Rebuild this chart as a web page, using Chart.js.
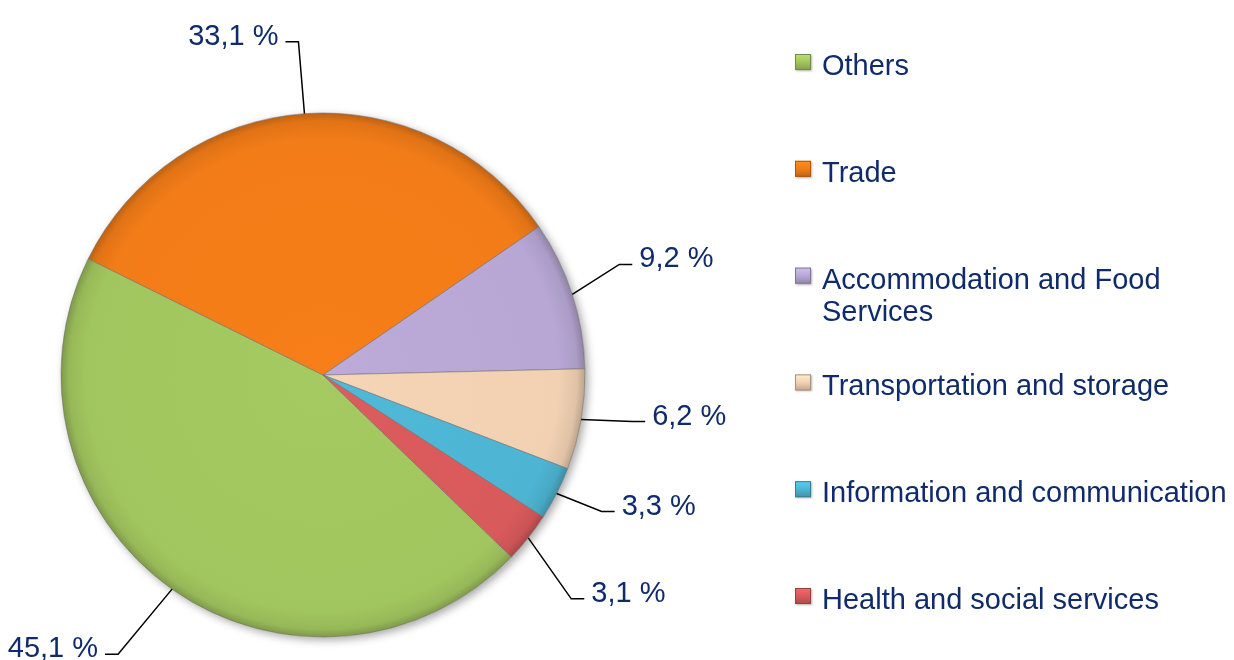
<!DOCTYPE html>
<html><head><meta charset="utf-8">
<script src="https://cdn.jsdelivr.net/npm/chart.js@4.4.1/dist/chart.umd.min.js"></script>
<style>html,body{margin:0;padding:0;background:#fff;overflow:hidden}canvas{display:block}</style>
</head><body>
<canvas id="c" width="1234" height="660"></canvas>
<script>
// ---- data ----
const categories = ['Others', 'Trade', ['Accommodation and Food', 'Services'], 'Transportation and storage', 'Information and communication', 'Health and social services'];
const shares = [45.1, 33.1, 9.2, 6.2, 3.3, 3.1];
const valueLabels = ['45,1 %', '33,1 %', '9,2 %', '6,2 %', '3,3 %', '3,1 %'];

// ---- styling ----
const sliceColors = ['#A2C65F', '#F27C18', '#B8A7D5', '#F1D1B2', '#4DB5D3', '#D95A5B'];
const labelElbows = [[-54, 65], [-6, -72], [47, -30], [51, 2], [45, 18], [43, 61]];
const TEXT_COLOR = '#0F2B6B';
const FONT = '29px "Liberation Sans", Arial, sans-serif';

function shade(hex, f) {
  const n = parseInt(hex.slice(1), 16);
  const r = Math.round(((n >> 16) & 255) * f), g = Math.round(((n >> 8) & 255) * f), b = Math.round((n & 255) * f);
  return `rgb(${Math.min(r,255)},${Math.min(g,255)},${Math.min(b,255)})`;
}

const shadowPlugin = {
  id: 'pieShadow',
  beforeDatasetsDraw(chart) {
    const arc = chart.getDatasetMeta(0).data[0];
    if (!arc) return;
    const ctx = chart.ctx;
    ctx.save();
    ctx.shadowColor = 'rgba(0,0,0,0.35)';
    ctx.shadowBlur = 8;
    ctx.shadowOffsetX = 3;
    ctx.shadowOffsetY = 3;
    ctx.fillStyle = '#fff';
    ctx.beginPath();
    ctx.arc(arc.x, arc.y, arc.outerRadius, 0, Math.PI * 2);
    ctx.fill();
    ctx.restore();
  }
};

const labelPlugin = {
  id: 'leaderLabels',
  afterDatasetsDraw(chart) {
    const ctx = chart.ctx;
    const meta = chart.getDatasetMeta(0);
    ctx.save();
    ctx.font = FONT;
    ctx.fillStyle = TEXT_COLOR;
    ctx.strokeStyle = '#000';
    ctx.lineWidth = 1.5;
    ctx.textBaseline = 'alphabetic';
    meta.data.forEach((arc, i) => {
      const mid = (arc.startAngle + arc.endAngle) / 2;
      const ax = arc.x + Math.cos(mid) * arc.outerRadius;
      const ay = arc.y + Math.sin(mid) * arc.outerRadius;
      const ex = ax + labelElbows[i][0], ey = ay + labelElbows[i][1];
      const dir = labelElbows[i][0] >= 0 ? 1 : -1;
      const hx = ex + dir * 13;
      ctx.beginPath();
      ctx.moveTo(ax, ay);
      ctx.lineTo(ex, ey);
      ctx.lineTo(hx, ey);
      ctx.stroke();
      ctx.textAlign = dir > 0 ? 'left' : 'right';
      ctx.fillText(valueLabels[i], hx + dir * 7, ey + 3);
    });
    ctx.restore();
  }
};

const legendPlugin = {
  id: 'sideLegend',
  afterDraw(chart) {
    const ctx = chart.ctx;
    ctx.save();
    ctx.font = FONT;
    ctx.fillStyle = TEXT_COLOR;
    ctx.textAlign = 'left';
    ctx.textBaseline = 'alphabetic';
    chart.data.labels.forEach((lab, i) => {
      const base = 75 + i * 106.8;
      const mx = 795, my = base - 21, s = 16;
      const col = sliceColors[i];
      const g = ctx.createLinearGradient(mx, my, mx, my + s);
      g.addColorStop(0, shade(col, 1.15));
      g.addColorStop(0.5, col);
      g.addColorStop(1, shade(col, 0.8));
      ctx.save();
      ctx.shadowColor = 'rgba(0,0,0,0.3)';
      ctx.shadowBlur = 2;
      ctx.shadowOffsetX = 1;
      ctx.shadowOffsetY = 1;
      ctx.fillStyle = g;
      ctx.fillRect(mx, my, s, s);
      ctx.restore();
      ctx.strokeStyle = shade(col, 0.7);
      ctx.lineWidth = 1;
      ctx.strokeRect(mx + 0.5, my + 0.5, s - 1, s - 1);
      ctx.fillStyle = TEXT_COLOR;
      const lines = Array.isArray(lab) ? lab : [lab];
      lines.forEach((t, k) => ctx.fillText(t, 822, base + k * 32.5));
    });
    ctx.restore();
  }
};

new Chart(document.getElementById('c'), {
  type: 'pie',
  data: {
    labels: categories,
    datasets: [{
      data: shares,
      backgroundColor: (c) => {
        const base = sliceColors[c.dataIndex];
        const ca = c.chart.chartArea;
        if (!ca) return base;
        const cx = (ca.left + ca.right) / 2, cy = (ca.top + ca.bottom) / 2;
        const g = c.chart.ctx.createRadialGradient(cx, cy, 0, cx, cy, 262);
        g.addColorStop(0, shade(base, 1.02));
        g.addColorStop(0.9, base);
        g.addColorStop(0.97, shade(base, 0.93));
        g.addColorStop(1, shade(base, 0.78));
        return g;
      },
      borderColor: 'rgba(110,110,110,0.55)',
      borderWidth: 1,
      radius: 262
    }]
  },
  options: {
    responsive: false,
    animation: false,
    devicePixelRatio: 1,
    rotation: 134,
    layout: { padding: { left: 61, top: 113, right: 649, bottom: 23 } },
    plugins: { legend: { display: false }, tooltip: { enabled: false } }
  },
  plugins: [shadowPlugin, labelPlugin, legendPlugin]
});
</script>
</body></html>
